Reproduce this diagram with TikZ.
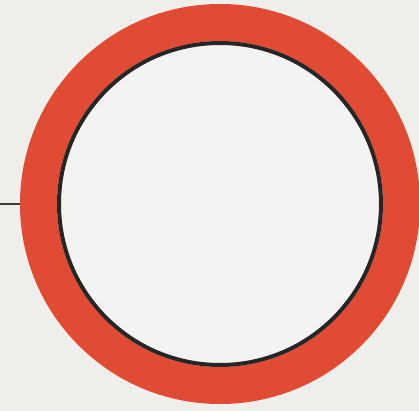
\documentclass[tikz,border=0pt]{standalone}
\usepackage{tikz}
\definecolor{Paper}{HTML}{EEEEEA}
\definecolor{Face}{HTML}{F3F3F1}
\definecolor{RingRed}{HTML}{E14B33}
\definecolor{Lead}{HTML}{3A3A3A}

\begin{document}
\begin{tikzpicture}[x=1pt,y=-1pt,
      ring/.style={circle,draw=RingRed,fill=Face,line width=37pt,
                   inner sep=0pt,minimum size=363pt},
      rim/.style={circle,draw=black!85,line width=4pt,
                  inner sep=0pt,minimum size=322pt},
      lead/.style={draw=Lead,line width=2pt}]
    \fill[Paper] (0,0) rectangle (419,411);
    \useasboundingbox (0,0) rectangle (419,411);
    \node[ring] (ring) at (220,204) {};
    \node[rim] (rim) at (ring.center) {};
    \coordinate (stub) at (0,204);
    \draw[lead] (stub) -- (ring.west);
  \end{tikzpicture}
\end{document}
